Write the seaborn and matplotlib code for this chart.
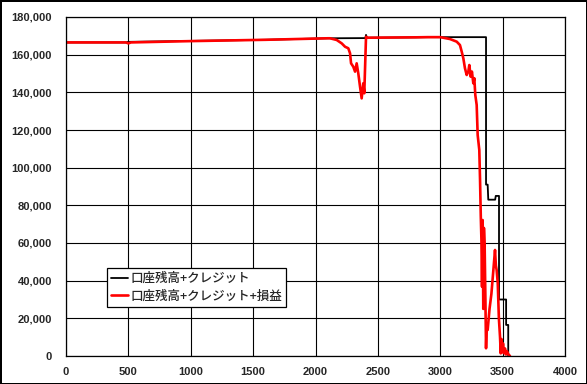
import numpy as np
import pandas as pd
import matplotlib
matplotlib.use('Agg')
import matplotlib.pyplot as plt
import seaborn as sns
from matplotlib.ticker import FuncFormatter

# black: 口座残高+クレジット
x_credit = [0, 480, 500, 1000, 1600, 2100, 2400, 2405, 2412, 2800, 2900, 3367, 3367,
            3380, 3385, 3440, 3445, 3471, 3471, 3528, 3528, 3545, 3545]
y_credit = [166500, 166500, 166800, 167300, 167900, 168700, 168800, 170500, 169000, 169200,
            169300, 169300, 91000, 91000, 83000, 83000, 85000, 85000, 30000, 30000,
            16500, 16500, 0]

# red: 口座残高+クレジット+損益
x_pl = [0, 480, 500, 520, 1000, 1600, 2100, 2116, 2170, 2210, 2237, 2263, 2277, 2285,
        2303, 2317, 2330, 2343, 2357, 2370, 2383, 2391, 2405, 2412, 2800, 2900, 3000,
        3078, 3132, 3158, 3172, 3185, 3198, 3212, 3225, 3233, 3244, 3254, 3265, 3273,
        3281, 3292, 3300, 3313, 3319, 3325, 3330, 3335, 3340, 3345, 3350, 3356, 3362,
        3367, 3372, 3380, 3395, 3410, 3425, 3439, 3446, 3452, 3461, 3470, 3479, 3485,
        3491, 3497, 3503, 3511, 3519, 3527, 3535, 3545, 3559]
y_pl = [166500, 166500, 166000, 166500, 167200, 167900, 168700, 168700, 167800, 166000,
        164200, 163400, 160700, 155400, 153600, 151000, 155400, 150100, 143000, 136800,
        144800, 139500, 169500, 169000, 169200, 169300, 169300, 168300, 166900, 165100,
        161600, 158100, 152800, 149200, 151000, 154500, 148300, 151000, 144800, 147500,
        138600, 133300, 117300, 109400, 93500, 74000, 62000, 36800, 72200, 25000,
        68000, 58000, 30000, 4100, 15000, 13800, 25000, 33000, 45000, 56300, 48000,
        45700, 38600, 20000, 10300, 1400, 9000, 2000, 6700, 1500, 4000, 800, 2500,
        1000, 0]

labels = ['口座残高+クレジット', '口座残高+クレジット+損益']

sns.set_style('white')
plt.rcParams['font.family'] = ['Liberation Sans', 'Noto Sans CJK JP', 'DejaVu Sans']

fig = plt.figure(figsize=(5.87, 3.84), dpi=100, edgecolor='black', linewidth=2)
ax = fig.add_axes([66/587, 28/384, 499/587, 339/384])

sns.lineplot(x=x_credit, y=y_credit, sort=False, estimator=None, color='black',
             linewidth=1.3, label=labels[0], ax=ax)
sns.lineplot(x=x_pl, y=y_pl, sort=False, estimator=None, color='#ff0000',
             linewidth=1.9, label=labels[1], ax=ax)

ax.set_xlim(0, 4000)
ax.set_ylim(0, 180000)
ax.set_xticks(np.arange(0, 4001, 500))
ax.set_yticks(np.arange(0, 180001, 20000))
ax.yaxis.set_major_formatter(FuncFormatter(lambda v, p: f'{int(v):,}'))
ax.grid(True, color='black', linewidth=0.8)
ax.set_axisbelow(True)
for s in ax.spines.values():
    s.set_color('black')
    s.set_linewidth(0.9)
ax.tick_params(length=0, labelsize=8)
ax.tick_params(axis='y', pad=10)
ax.tick_params(axis='x', pad=8)
for t in ax.get_xticklabels() + ax.get_yticklabels():
    t.set_fontweight('bold')

leg = ax.legend(loc='lower left', bbox_to_anchor=(0.082, 0.145), fancybox=False,
                framealpha=1, edgecolor='black', handlelength=1.3, handletextpad=0.2,
                borderpad=0.35, labelspacing=0.35, borderaxespad=0,
                prop={'family': ['Noto Sans CJK JP', 'DejaVu Sans'], 'size': 9,
                      'weight': 'medium'})
leg.get_frame().set_linewidth(0.9)

ax.set_xlabel('')
ax.set_ylabel('')
fig.savefig('out.png', dpi=100)
